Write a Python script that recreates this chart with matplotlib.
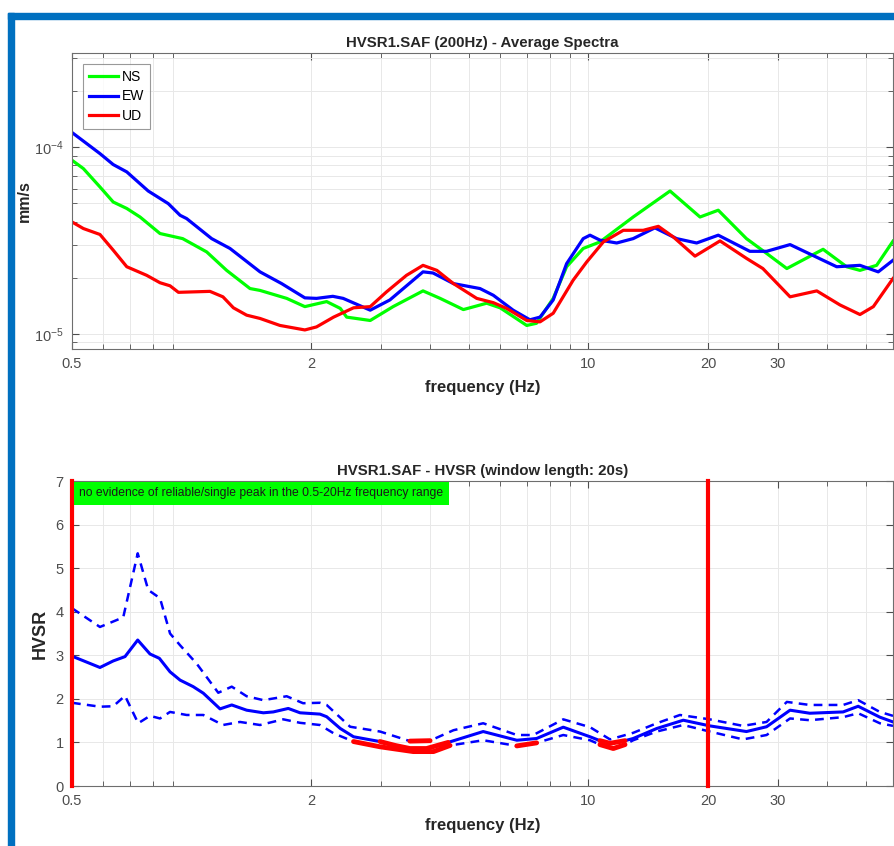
import numpy as np
import matplotlib.pyplot as plt
from matplotlib.ticker import FixedLocator, NullFormatter, LogLocator
from matplotlib.patches import Rectangle

plt.rcParams['font.family'] = ['Liberation Sans', 'DejaVu Sans']

# average spectra (mm/s)
freq_ns = [0.5, 0.534, 0.588, 0.635, 0.687, 0.742, 0.833, 0.95, 1.092, 1.226, 1.404, 1.488,
           1.737, 1.93, 2.19, 2.37, 2.46, 2.82, 3.22, 3.83, 4.23, 4.84, 5.54, 5.99, 6.99,
           7.40, 8.15, 8.81, 9.70, 10.69, 12.96, 16.05, 19.1, 21.23, 25.0, 28.1, 31.6,
           39.0, 44.7, 48.3, 53.2, 58.5]
ns = [8.52e-5, 7.69e-5, 6.13e-5, 5.09e-5, 4.70e-5, 4.23e-5, 3.45e-5, 3.24e-5, 2.75e-5,
      2.19e-5, 1.75e-5, 1.71e-5, 1.55e-5, 1.40e-5, 1.49e-5, 1.37e-5, 1.23e-5, 1.18e-5,
      1.40e-5, 1.70e-5, 1.55e-5, 1.35e-5, 1.46e-5, 1.38e-5, 1.11e-5, 1.14e-5, 1.55e-5,
      2.29e-5, 2.87e-5, 3.11e-5, 4.23e-5, 5.83e-5, 4.23e-5, 4.60e-5, 3.24e-5, 2.70e-5,
      2.24e-5, 2.84e-5, 2.29e-5, 2.19e-5, 2.33e-5, 3.14e-5]

freq_ew = [0.5, 0.588, 0.635, 0.687, 0.778, 0.874, 0.936, 0.972, 1.124, 1.25, 1.488, 1.687,
           1.93, 2.065, 2.27, 2.41, 2.82, 3.16, 3.83, 4.06, 4.57, 5.33, 5.76, 6.46, 7.12,
           7.55, 8.15, 8.81, 9.70, 10.09, 10.69, 11.78, 12.96, 14.7, 16.68, 18.73, 21.23,
           25.5, 28.1, 32.2, 39.0, 42.2, 48.3, 53.7, 58.5]
ew = [1.20e-4, 9.25e-5, 8.08e-5, 7.38e-5, 5.83e-5, 4.99e-5, 4.32e-5, 4.15e-5, 3.24e-5,
      2.87e-5, 2.15e-5, 1.86e-5, 1.56e-5, 1.55e-5, 1.59e-5, 1.55e-5, 1.34e-5, 1.52e-5,
      2.15e-5, 2.12e-5, 1.86e-5, 1.75e-5, 1.61e-5, 1.34e-5, 1.19e-5, 1.23e-5, 1.52e-5,
      2.38e-5, 3.24e-5, 3.38e-5, 3.18e-5, 3.07e-5, 3.24e-5, 3.70e-5, 3.24e-5, 3.07e-5,
      3.38e-5, 2.77e-5, 2.77e-5, 3.01e-5, 2.48e-5, 2.29e-5, 2.33e-5, 2.15e-5, 2.48e-5]

freq_ud = [0.5, 0.534, 0.588, 0.635, 0.687, 0.771, 0.833, 0.883, 0.927, 1.113, 1.20, 1.275,
           1.377, 1.488, 1.67, 1.93, 2.065, 2.28, 2.56, 2.82, 3.10, 3.48, 3.83, 4.15, 4.57,
           5.23, 5.76, 6.22, 6.99, 7.55, 8.15, 9.15, 9.90, 10.9, 12.24, 13.74, 15.0, 16.35,
           18.55, 21.45, 25.0, 27.5, 32.2, 37.6, 43.0, 48.3, 52.2, 58.5]
ud = [3.98e-5, 3.67e-5, 3.41e-5, 2.81e-5, 2.29e-5, 2.06e-5, 1.88e-5, 1.81e-5, 1.67e-5,
      1.69e-5, 1.58e-5, 1.38e-5, 1.26e-5, 1.21e-5, 1.11e-5, 1.05e-5, 1.09e-5, 1.23e-5,
      1.38e-5, 1.40e-5, 1.68e-5, 2.06e-5, 2.33e-5, 2.19e-5, 1.86e-5, 1.55e-5, 1.47e-5,
      1.37e-5, 1.18e-5, 1.16e-5, 1.29e-5, 1.94e-5, 2.43e-5, 3.11e-5, 3.59e-5, 3.59e-5,
      3.77e-5, 3.31e-5, 2.61e-5, 3.15e-5, 2.54e-5, 2.24e-5, 1.58e-5, 1.70e-5, 1.43e-5,
      1.27e-5, 1.40e-5, 1.98e-5]

# HVSR curves
freq_mean = [0.5, 0.588, 0.635, 0.680, 0.732, 0.786, 0.830, 0.883, 0.936, 1.01, 1.071, 1.18,
             1.263, 1.377, 1.517, 1.607, 1.753, 1.877, 2.107, 2.19, 2.37, 2.56, 2.82, 2.985,
             3.26, 3.55, 3.91, 4.43, 5.43, 6.6, 7.40, 8.64, 10.09, 10.69, 11.33, 12.36,
             12.96, 14.86, 17.33, 20.2, 25.0, 28.1, 32.2, 36.1, 43.8, 47.8, 54.2, 58.5]
hv_mean = [2.98, 2.72, 2.87, 2.97, 3.35, 3.03, 2.93, 2.62, 2.43, 2.28, 2.13, 1.77,
           1.86, 1.74, 1.68, 1.70, 1.78, 1.68, 1.65, 1.59, 1.32, 1.13, 1.06, 1.02,
           0.93, 0.86, 0.86, 1.00, 1.25, 1.05, 1.09, 1.35, 1.13, 1.04, 0.98, 1.04,
           1.09, 1.32, 1.51, 1.38, 1.25, 1.36, 1.74, 1.67, 1.70, 1.83, 1.58, 1.47]

freq_up = [0.5, 0.588, 0.673, 0.732, 0.778, 0.833, 0.883, 0.936, 1.03, 1.168, 1.263, 1.377,
           1.517, 1.737, 1.91, 2.107, 2.19, 2.51, 2.985, 3.55, 3.99, 4.57, 5.43, 6.6, 7.26,
           8.64, 10.09, 11.33, 12.96, 14.86, 17.0, 20.2, 24.5, 28.1, 31.6, 36.1, 43.8,
           47.8, 54.2, 58.5]
hv_up = [4.08, 3.65, 3.87, 5.34, 4.50, 4.31, 3.50, 3.23, 2.81, 2.14, 2.28, 2.06,
         1.97, 2.06, 1.90, 1.91, 1.86, 1.36, 1.25, 1.03, 1.04, 1.28, 1.44, 1.17, 1.17,
         1.53, 1.35, 1.07, 1.22, 1.44, 1.63, 1.53, 1.38, 1.47, 1.93, 1.86, 1.86,
         1.97, 1.70, 1.61]

freq_low = [0.5, 0.588, 0.635, 0.680, 0.734, 0.786, 0.833, 0.883, 0.972, 1.071, 1.20, 1.325,
            1.488, 1.703, 1.877, 2.107, 2.28, 2.56, 2.985, 3.62, 4.07, 4.48, 5.43, 6.6, 7.40,
            8.64, 10.09, 10.69, 11.55, 12.36, 12.96, 14.86, 17.33, 20.2, 24.5, 28.1, 32.2,
            36.1, 43.8, 47.8, 54.2, 58.5]
hv_low = [1.91, 1.82, 1.83, 2.07, 1.44, 1.61, 1.55, 1.70, 1.63, 1.63, 1.40, 1.47,
          1.40, 1.53, 1.45, 1.40, 1.21, 1.02, 0.90, 0.79, 0.79, 0.93, 1.05, 0.92, 0.99,
          1.17, 1.05, 0.95, 0.86, 0.95, 1.05, 1.25, 1.40, 1.25, 1.07, 1.17, 1.55,
          1.51, 1.58, 1.67, 1.44, 1.38]

# frequency ranges drawn in red on each HVSR curve
red_mean_ranges = [(2.9, 4.5), (10.5, 12.5)]
red_up_ranges = [(3.5, 4.0)]
red_low_ranges = [(2.5, 5.0), (6.0, 7.5), (10.5, 12.5)]
vlines = [0.5, 20]

note = 'no evidence of reliable/single peak in the 0.5-20Hz frequency range'

xmin, xmax = 0.5, 58.5
xmajor = [0.5, 2, 10, 20, 30]
xminor = [0.6, 0.7, 0.8, 0.9, 3, 4, 5, 6, 7, 8, 9, 40, 50]
tick_col = '#4d4d4d'
text_col = '#262626'


def style_axes(ax):
    ax.set_xscale('log')
    ax.set_xlim(xmin, xmax)
    ax.xaxis.set_major_locator(FixedLocator(xmajor))
    ax.set_xticklabels([str(v) for v in xmajor])
    ax.xaxis.set_minor_locator(FixedLocator(xminor))
    ax.xaxis.set_minor_formatter(NullFormatter())
    ax.grid(True, which='both', color='#e8e8e8', linewidth=0.7)
    ax.set_axisbelow(True)
    ax.tick_params(which='both', direction='in', top=True, right=True,
                   color=tick_col, labelcolor=tick_col, labelsize=10.5, pad=6)
    ax.tick_params(which='major', length=5)
    ax.tick_params(which='minor', length=3.5)
    for s in ax.spines.values():
        s.set_color('#6e6e6e')
        s.set_linewidth(0.8)
    ax.set_xlabel('frequency (Hz)', fontsize=12, fontweight='bold', color=text_col)
    ax.xaxis.set_label_coords(0.5, -0.105)


def in_ranges(freqs, ranges):
    f = np.asarray(freqs)
    m = np.zeros(len(f), dtype=bool)
    for lo, hi in ranges:
        m |= (f >= lo) & (f <= hi)
    return m


fig = plt.figure(figsize=(8.95, 8.46), dpi=100)

# blue frame (top and left)
fig.patches.append(Rectangle((8 / 895, (846 - 19) / 846), 1, 6 / 846,
                             transform=fig.transFigure, color='#0070C0', zorder=0))
fig.patches.append(Rectangle((8 / 895, 0), 6 / 895, (846 - 13) / 846,
                             transform=fig.transFigure, color='#0070C0', zorder=0))

# ---- average spectra ----
ax1 = fig.add_axes([72 / 895, 497 / 846, 821 / 895, 296 / 846])
ax1.plot(freq_ns, ns, color='#00ff00', linewidth=2.3, label='NS')
ax1.plot(freq_ew, ew, color='#0000ff', linewidth=2.3, label='EW')
ax1.plot(freq_ud, ud, color='#ff0000', linewidth=2.3, label='UD')
style_axes(ax1)
ax1.set_yscale('log')
ax1.set_ylim(8.3e-6, 3.2e-4)
ax1.set_yticks([1e-5, 1e-4])
ax1.yaxis.set_minor_locator(LogLocator(base=10, subs=np.arange(2, 10)))
ax1.yaxis.set_minor_formatter(NullFormatter())
ax1.set_title('HVSR1.SAF (200Hz) - Average Spectra', fontsize=10.8, fontweight='bold',
              pad=4, color=text_col)
ax1.set_ylabel('mm/s', fontsize=11.5, fontweight='bold', color=text_col)
ax1.yaxis.set_label_coords(-0.049, 0.5)
leg = ax1.legend(loc='upper left', fontsize=10, fancybox=False, edgecolor='#808080',
                 handlelength=2.1, handletextpad=0.3, labelspacing=0.42,
                 borderaxespad=0.8, borderpad=0.4)
leg.get_frame().set_linewidth(0.8)

# ---- HVSR ----
ax2 = fig.add_axes([72 / 895, 60 / 846, 821 / 895, 305 / 846])
ax2.plot(freq_up, hv_up, color='#0000ff', linewidth=1.8, linestyle=(0, (3.5, 2.5)))
ax2.plot(freq_low, hv_low, color='#0000ff', linewidth=1.8, linestyle=(0, (3.5, 2.5)))
ax2.plot(freq_mean, hv_mean, color='#0000ff', linewidth=2.2)

for fr, vals, ranges in [(freq_mean, hv_mean, red_mean_ranges),
                         (freq_up, hv_up, red_up_ranges),
                         (freq_low, hv_low, red_low_ranges)]:
    for lo, hi in ranges:
        mm = in_ranges(fr, [(lo, hi)])
        ax2.plot(np.asarray(fr)[mm], np.asarray(vals)[mm], color='#ff0000',
                 linewidth=3.5, solid_capstyle='round', zorder=3)

for v in vlines:
    ax2.axvline(v, color='#ff0000', linewidth=3, clip_on=False, zorder=4)

style_axes(ax2)
ax2.set_ylim(0, 7)
ax2.set_yticks(range(0, 8))
ax2.set_title('HVSR1.SAF - HVSR (window length: 20s)', fontsize=10.8, fontweight='bold',
              pad=4, color=text_col)
ax2.set_ylabel('HVSR', fontsize=13, fontweight='bold', color=text_col)
ax2.yaxis.set_label_coords(-0.028, 0.5)
ax2.text(0.0085, 0.979, note, transform=ax2.transAxes, fontsize=8.7, va='top', ha='left',
         color='#1a1a1a', zorder=5,
         bbox=dict(boxstyle='square,pad=0.45', facecolor='#00ff00', edgecolor='none'))

fig.savefig('out.png', dpi=100)
